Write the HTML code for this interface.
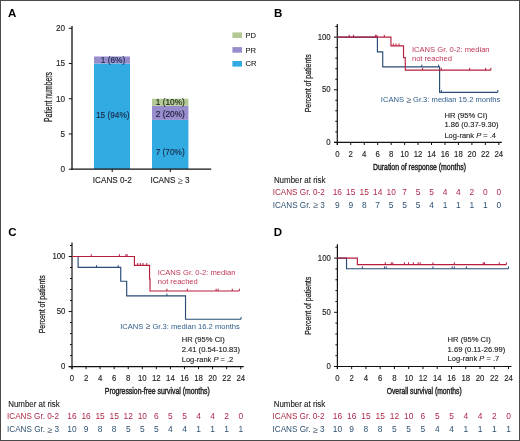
<!DOCTYPE html>
<html><head><meta charset="utf-8"><style>
html,body{margin:0;padding:0;background:#fff;}
body{width:520px;height:441px;overflow:hidden;}
svg{display:block;font-family:"Liberation Sans", sans-serif;will-change:transform;}
text{-webkit-font-smoothing:antialiased;}
</style></head><body>
<svg width="520" height="441" viewBox="0 0 520 441">
<rect x="0" y="0" width="520" height="441" fill="#fff"/>
<text x="8.00" y="16.70" font-size="11.5" fill="#000" text-anchor="start" font-weight="bold" >A</text>
<rect x="94.00" y="63.52" width="36.00" height="105.67" fill="#31abe2"/>
<rect x="94.00" y="56.48" width="36.00" height="7.05" fill="#978dcc"/>
<rect x="152.00" y="119.88" width="36.40" height="49.31" fill="#31abe2"/>
<rect x="152.00" y="105.79" width="36.40" height="14.09" fill="#978dcc"/>
<rect x="152.00" y="98.75" width="36.40" height="7.05" fill="#b4c896"/>
<line x1="72.00" y1="26.00" x2="72.00" y2="169.80" stroke="#111" stroke-width="1.3"/>
<line x1="71.40" y1="169.20" x2="211.20" y2="169.20" stroke="#111" stroke-width="1.3"/>
<line x1="68.80" y1="169.20" x2="72.00" y2="169.20" stroke="#111" stroke-width="1"/>
<text transform="translate(65.00,172.10) scale(1,1.06)" font-size="8.2" fill="#222" stroke="#222" stroke-width="0.12" text-anchor="end" font-weight="normal" >0</text>
<line x1="68.80" y1="133.97" x2="72.00" y2="133.97" stroke="#111" stroke-width="1"/>
<text transform="translate(65.00,136.88) scale(1,1.06)" font-size="8.2" fill="#222" stroke="#222" stroke-width="0.12" text-anchor="end" font-weight="normal" >5</text>
<line x1="68.80" y1="98.75" x2="72.00" y2="98.75" stroke="#111" stroke-width="1"/>
<text transform="translate(65.00,101.65) scale(1,1.06)" font-size="8.2" fill="#222" stroke="#222" stroke-width="0.12" text-anchor="end" font-weight="normal" >10</text>
<line x1="68.80" y1="63.52" x2="72.00" y2="63.52" stroke="#111" stroke-width="1"/>
<text transform="translate(65.00,66.42) scale(1,1.06)" font-size="8.2" fill="#222" stroke="#222" stroke-width="0.12" text-anchor="end" font-weight="normal" >15</text>
<line x1="68.80" y1="28.30" x2="72.00" y2="28.30" stroke="#111" stroke-width="1"/>
<text transform="translate(65.00,31.20) scale(1,1.06)" font-size="8.2" fill="#222" stroke="#222" stroke-width="0.12" text-anchor="end" font-weight="normal" >20</text>
<line x1="112.20" y1="169.20" x2="112.20" y2="172.00" stroke="#111" stroke-width="1"/>
<line x1="170.30" y1="169.20" x2="170.30" y2="172.00" stroke="#111" stroke-width="1"/>
<text transform="translate(112.30,183.10) scale(1,1.06)" font-size="8.2" fill="#222" stroke="#222" stroke-width="0.12" text-anchor="middle" font-weight="normal" >ICANS 0-2</text>
<text transform="translate(170.00,183.10) scale(1,1.06)" font-size="8.2" fill="#222" stroke="#222" stroke-width="0.12" text-anchor="middle" font-weight="normal" >ICANS <tspan fill="#666" stroke="none" font-size="9.2" dy="0.8">≥</tspan><tspan dy="-0.8"> 3</tspan></text>
<text transform="translate(113.00,63.00) scale(1,1.07)" font-size="8.3" fill="#1b2a4a" stroke="#1b2a4a" stroke-width="0.15" text-anchor="middle" font-weight="normal" >1 (6%)</text>
<text transform="translate(112.80,118.20) scale(1,1.07)" font-size="8.3" fill="#1b2a4a" stroke="#1b2a4a" stroke-width="0.15" text-anchor="middle" font-weight="normal" >15 (94%)</text>
<text transform="translate(170.30,105.30) scale(1,1.07)" font-size="8.3" fill="#1f2a14" stroke="#1f2a14" stroke-width="0.15" text-anchor="middle" font-weight="normal" >1 (10%)</text>
<text transform="translate(170.30,116.60) scale(1,1.07)" font-size="8.3" fill="#241d3a" stroke="#241d3a" stroke-width="0.15" text-anchor="middle" font-weight="normal" >2 (20%)</text>
<text transform="translate(170.20,155.30) scale(1,1.07)" font-size="8.3" fill="#1b2a4a" stroke="#1b2a4a" stroke-width="0.15" text-anchor="middle" font-weight="normal" >7 (70%)</text>
<rect x="232.40" y="32.40" width="9.60" height="5.60" fill="#b4c896"/>
<rect x="232.40" y="47.10" width="9.60" height="5.60" fill="#978dcc"/>
<rect x="232.40" y="61.00" width="9.60" height="5.60" fill="#31abe2"/>
<text transform="translate(245.40,37.80) scale(1,1.06)" font-size="7.6" fill="#222" stroke="#222" stroke-width="0.12" text-anchor="start" font-weight="normal" >PD</text>
<text transform="translate(245.40,52.50) scale(1,1.06)" font-size="7.6" fill="#222" stroke="#222" stroke-width="0.12" text-anchor="start" font-weight="normal" >PR</text>
<text transform="translate(245.40,66.40) scale(1,1.06)" font-size="7.6" fill="#222" stroke="#222" stroke-width="0.12" text-anchor="start" font-weight="normal" >CR</text>
<text transform="translate(51.60,97.00) rotate(-90)" x="0" y="0" font-size="10.2" font-weight="normal" fill="#222" stroke="#222" stroke-width="0.25" text-anchor="middle" textLength="50" lengthAdjust="spacingAndGlyphs">Patient numbers</text>
<line x1="337.30" y1="24.00" x2="337.30" y2="145.00" stroke="#111" stroke-width="1.2"/>
<line x1="334.00" y1="142.40" x2="501.82" y2="142.40" stroke="#111" stroke-width="1.2"/>
<line x1="334.00" y1="142.40" x2="337.30" y2="142.40" stroke="#111" stroke-width="1"/>
<line x1="335.30" y1="131.87" x2="337.30" y2="131.87" stroke="#111" stroke-width="1"/>
<line x1="335.30" y1="121.34" x2="337.30" y2="121.34" stroke="#111" stroke-width="1"/>
<line x1="335.30" y1="110.81" x2="337.30" y2="110.81" stroke="#111" stroke-width="1"/>
<line x1="335.30" y1="100.28" x2="337.30" y2="100.28" stroke="#111" stroke-width="1"/>
<line x1="334.00" y1="89.75" x2="337.30" y2="89.75" stroke="#111" stroke-width="1"/>
<line x1="335.30" y1="79.22" x2="337.30" y2="79.22" stroke="#111" stroke-width="1"/>
<line x1="335.30" y1="68.69" x2="337.30" y2="68.69" stroke="#111" stroke-width="1"/>
<line x1="335.30" y1="58.16" x2="337.30" y2="58.16" stroke="#111" stroke-width="1"/>
<line x1="335.30" y1="47.63" x2="337.30" y2="47.63" stroke="#111" stroke-width="1"/>
<line x1="334.00" y1="37.10" x2="337.30" y2="37.10" stroke="#111" stroke-width="1"/>
<line x1="335.30" y1="26.57" x2="337.30" y2="26.57" stroke="#111" stroke-width="1"/>
<text transform="translate(330.70,144.80) scale(1,1.06)" font-size="7.8" fill="#222" stroke="#222" stroke-width="0.12" text-anchor="end" font-weight="normal" >0</text>
<text transform="translate(330.70,92.15) scale(1,1.06)" font-size="7.8" fill="#222" stroke="#222" stroke-width="0.12" text-anchor="end" font-weight="normal" >50</text>
<text transform="translate(330.70,39.50) scale(1,1.06)" font-size="7.8" fill="#222" stroke="#222" stroke-width="0.12" text-anchor="end" font-weight="normal" >100</text>
<line x1="337.30" y1="142.40" x2="337.30" y2="145.00" stroke="#111" stroke-width="1"/>
<text transform="translate(337.30,156.80) scale(1,1.06)" font-size="7.8" fill="#222" stroke="#222" stroke-width="0.12" text-anchor="middle" font-weight="normal" >0</text>
<line x1="350.76" y1="142.40" x2="350.76" y2="145.00" stroke="#111" stroke-width="1"/>
<text transform="translate(350.76,156.80) scale(1,1.06)" font-size="7.8" fill="#222" stroke="#222" stroke-width="0.12" text-anchor="middle" font-weight="normal" >2</text>
<line x1="364.22" y1="142.40" x2="364.22" y2="145.00" stroke="#111" stroke-width="1"/>
<text transform="translate(364.22,156.80) scale(1,1.06)" font-size="7.8" fill="#222" stroke="#222" stroke-width="0.12" text-anchor="middle" font-weight="normal" >4</text>
<line x1="377.68" y1="142.40" x2="377.68" y2="145.00" stroke="#111" stroke-width="1"/>
<text transform="translate(377.68,156.80) scale(1,1.06)" font-size="7.8" fill="#222" stroke="#222" stroke-width="0.12" text-anchor="middle" font-weight="normal" >6</text>
<line x1="391.14" y1="142.40" x2="391.14" y2="145.00" stroke="#111" stroke-width="1"/>
<text transform="translate(391.14,156.80) scale(1,1.06)" font-size="7.8" fill="#222" stroke="#222" stroke-width="0.12" text-anchor="middle" font-weight="normal" >8</text>
<line x1="404.60" y1="142.40" x2="404.60" y2="145.00" stroke="#111" stroke-width="1"/>
<text transform="translate(404.60,156.80) scale(1,1.06)" font-size="7.8" fill="#222" stroke="#222" stroke-width="0.12" text-anchor="middle" font-weight="normal" >10</text>
<line x1="418.06" y1="142.40" x2="418.06" y2="145.00" stroke="#111" stroke-width="1"/>
<text transform="translate(418.06,156.80) scale(1,1.06)" font-size="7.8" fill="#222" stroke="#222" stroke-width="0.12" text-anchor="middle" font-weight="normal" >12</text>
<line x1="431.52" y1="142.40" x2="431.52" y2="145.00" stroke="#111" stroke-width="1"/>
<text transform="translate(431.52,156.80) scale(1,1.06)" font-size="7.8" fill="#222" stroke="#222" stroke-width="0.12" text-anchor="middle" font-weight="normal" >14</text>
<line x1="444.98" y1="142.40" x2="444.98" y2="145.00" stroke="#111" stroke-width="1"/>
<text transform="translate(444.98,156.80) scale(1,1.06)" font-size="7.8" fill="#222" stroke="#222" stroke-width="0.12" text-anchor="middle" font-weight="normal" >16</text>
<line x1="458.44" y1="142.40" x2="458.44" y2="145.00" stroke="#111" stroke-width="1"/>
<text transform="translate(458.44,156.80) scale(1,1.06)" font-size="7.8" fill="#222" stroke="#222" stroke-width="0.12" text-anchor="middle" font-weight="normal" >18</text>
<line x1="471.90" y1="142.40" x2="471.90" y2="145.00" stroke="#111" stroke-width="1"/>
<text transform="translate(471.90,156.80) scale(1,1.06)" font-size="7.8" fill="#222" stroke="#222" stroke-width="0.12" text-anchor="middle" font-weight="normal" >20</text>
<line x1="485.36" y1="142.40" x2="485.36" y2="145.00" stroke="#111" stroke-width="1"/>
<text transform="translate(485.36,156.80) scale(1,1.06)" font-size="7.8" fill="#222" stroke="#222" stroke-width="0.12" text-anchor="middle" font-weight="normal" >22</text>
<line x1="498.82" y1="142.40" x2="498.82" y2="145.00" stroke="#111" stroke-width="1"/>
<text transform="translate(498.82,156.80) scale(1,1.06)" font-size="7.8" fill="#222" stroke="#222" stroke-width="0.12" text-anchor="middle" font-weight="normal" >24</text>
<path d="M337.30,37.10 L377.41,37.10 L377.41,51.91 L382.73,51.91 L382.73,66.90 L439.60,66.90 L439.60,92.30 L497.81,92.30" fill="none" stroke="#294b76" stroke-width="1.15" stroke-linejoin="miter"/>
<line x1="421.76" y1="66.90" x2="421.76" y2="64.60" stroke="#294b76" stroke-width="1"/>
<line x1="438.59" y1="66.90" x2="438.59" y2="64.60" stroke="#294b76" stroke-width="1"/>
<line x1="441.41" y1="92.30" x2="441.41" y2="90.00" stroke="#294b76" stroke-width="1"/>
<line x1="497.81" y1="92.30" x2="497.81" y2="90.00" stroke="#294b76" stroke-width="1"/>
<path d="M337.30,37.10 L390.94,37.10 L390.94,45.80 L403.52,45.80 L403.52,57.60 L405.27,57.60 L405.27,70.15 L490.88,70.15" fill="none" stroke="#b71e3e" stroke-width="1.15" stroke-linejoin="miter"/>
<line x1="349.21" y1="37.10" x2="349.21" y2="34.80" stroke="#b71e3e" stroke-width="1"/>
<line x1="353.52" y1="37.10" x2="353.52" y2="34.80" stroke="#b71e3e" stroke-width="1"/>
<line x1="375.59" y1="37.10" x2="375.59" y2="34.80" stroke="#b71e3e" stroke-width="1"/>
<line x1="376.87" y1="37.10" x2="376.87" y2="34.80" stroke="#b71e3e" stroke-width="1"/>
<line x1="384.28" y1="37.10" x2="384.28" y2="34.80" stroke="#b71e3e" stroke-width="1"/>
<line x1="393.29" y1="45.80" x2="393.29" y2="43.50" stroke="#b71e3e" stroke-width="1"/>
<line x1="395.99" y1="45.80" x2="395.99" y2="43.50" stroke="#b71e3e" stroke-width="1"/>
<line x1="399.08" y1="45.80" x2="399.08" y2="43.50" stroke="#b71e3e" stroke-width="1"/>
<line x1="422.64" y1="70.15" x2="422.64" y2="67.85" stroke="#b71e3e" stroke-width="1"/>
<line x1="441.28" y1="70.15" x2="441.28" y2="67.85" stroke="#b71e3e" stroke-width="1"/>
<line x1="469.68" y1="70.15" x2="469.68" y2="67.85" stroke="#b71e3e" stroke-width="1"/>
<line x1="485.63" y1="70.15" x2="485.63" y2="67.85" stroke="#b71e3e" stroke-width="1"/>
<line x1="490.88" y1="70.15" x2="490.88" y2="67.85" stroke="#b71e3e" stroke-width="1"/>
<text transform="translate(411.90,52.40) scale(1,1.06)" font-size="7.6" fill="#bf3756" text-anchor="start" font-weight="normal" >ICANS Gr. 0-2: median</text>
<text transform="translate(411.90,60.80) scale(1,1.06)" font-size="7.6" fill="#bf3756" text-anchor="start" font-weight="normal" >not reached</text>
<text transform="translate(380.80,102.20) scale(1,1.06)" font-size="7.6" fill="#33608e" text-anchor="start" font-weight="normal" >ICANS <tspan fill="#5f6d80" font-size="8.6" dy="0.6">≥</tspan><tspan dy="-0.6"> Gr.3</tspan>: median 15.2 months</text>
<text transform="translate(444.40,117.90) scale(1,1.06)" font-size="7.6" fill="#222" stroke="#222" stroke-width="0.12" text-anchor="start" font-weight="normal" >HR (95% CI)</text>
<text transform="translate(444.40,127.10) scale(1,1.06)" font-size="7.6" fill="#222" stroke="#222" stroke-width="0.12" text-anchor="start" font-weight="normal" >1.86 (0.37-9.30)</text>
<text transform="translate(444.40,137.90) scale(1,1.06)" font-size="7.6" fill="#222" stroke="#222" stroke-width="0.12" text-anchor="start" font-weight="normal" ><tspan textLength="51.6" lengthAdjust="spacingAndGlyphs">Log-rank <tspan font-style="italic">P</tspan> = .4</tspan></text>
<text x="373.00" y="169.80" font-size="9.9" font-weight="normal" fill="#222" stroke="#222" stroke-width="0.45" textLength="93" lengthAdjust="spacingAndGlyphs">Duration of response (months)</text>
<text transform="translate(311.00,83.30) rotate(-90)" x="0" y="0" font-size="9.6" font-weight="normal" fill="#222" stroke="#222" stroke-width="0.25" text-anchor="middle" textLength="58" lengthAdjust="spacingAndGlyphs">Percent of patients</text>
<text x="273.90" y="182.80" font-size="8.4" fill="#222" stroke="#222" stroke-width="0.12" text-anchor="start" font-weight="normal" textLength="51.6" lengthAdjust="spacingAndGlyphs">Number at risk</text>
<text x="272.70" y="195.10" font-size="8.4" fill="#b02a4a" text-anchor="start" font-weight="normal" textLength="52.0" lengthAdjust="spacingAndGlyphs">ICANS Gr. 0-2</text>
<text x="272.70" y="207.50" font-size="8.4" fill="#2f5272" text-anchor="start" font-weight="normal" textLength="52.0" lengthAdjust="spacingAndGlyphs">ICANS Gr. <tspan fill="#5f6d80" font-size="9.2" dy="0.8">≥</tspan><tspan dy="-0.8"> 3</tspan></text>
<text x="337.30" y="195.10" font-size="8.4" fill="#b02a4a" text-anchor="middle" font-weight="normal" >16</text>
<text x="337.30" y="207.50" font-size="8.4" fill="#2f5272" text-anchor="middle" font-weight="normal" >9</text>
<text x="350.76" y="195.10" font-size="8.4" fill="#b02a4a" text-anchor="middle" font-weight="normal" >15</text>
<text x="350.76" y="207.50" font-size="8.4" fill="#2f5272" text-anchor="middle" font-weight="normal" >9</text>
<text x="364.22" y="195.10" font-size="8.4" fill="#b02a4a" text-anchor="middle" font-weight="normal" >15</text>
<text x="364.22" y="207.50" font-size="8.4" fill="#2f5272" text-anchor="middle" font-weight="normal" >8</text>
<text x="377.68" y="195.10" font-size="8.4" fill="#b02a4a" text-anchor="middle" font-weight="normal" >14</text>
<text x="377.68" y="207.50" font-size="8.4" fill="#2f5272" text-anchor="middle" font-weight="normal" >7</text>
<text x="391.14" y="195.10" font-size="8.4" fill="#b02a4a" text-anchor="middle" font-weight="normal" >10</text>
<text x="391.14" y="207.50" font-size="8.4" fill="#2f5272" text-anchor="middle" font-weight="normal" >5</text>
<text x="404.60" y="195.10" font-size="8.4" fill="#b02a4a" text-anchor="middle" font-weight="normal" >7</text>
<text x="404.60" y="207.50" font-size="8.4" fill="#2f5272" text-anchor="middle" font-weight="normal" >5</text>
<text x="418.06" y="195.10" font-size="8.4" fill="#b02a4a" text-anchor="middle" font-weight="normal" >5</text>
<text x="418.06" y="207.50" font-size="8.4" fill="#2f5272" text-anchor="middle" font-weight="normal" >5</text>
<text x="431.52" y="195.10" font-size="8.4" fill="#b02a4a" text-anchor="middle" font-weight="normal" >5</text>
<text x="431.52" y="207.50" font-size="8.4" fill="#2f5272" text-anchor="middle" font-weight="normal" >4</text>
<text x="444.98" y="195.10" font-size="8.4" fill="#b02a4a" text-anchor="middle" font-weight="normal" >4</text>
<text x="444.98" y="207.50" font-size="8.4" fill="#2f5272" text-anchor="middle" font-weight="normal" >1</text>
<text x="458.44" y="195.10" font-size="8.4" fill="#b02a4a" text-anchor="middle" font-weight="normal" >4</text>
<text x="458.44" y="207.50" font-size="8.4" fill="#2f5272" text-anchor="middle" font-weight="normal" >1</text>
<text x="471.90" y="195.10" font-size="8.4" fill="#b02a4a" text-anchor="middle" font-weight="normal" >2</text>
<text x="471.90" y="207.50" font-size="8.4" fill="#2f5272" text-anchor="middle" font-weight="normal" >1</text>
<text x="485.36" y="195.10" font-size="8.4" fill="#b02a4a" text-anchor="middle" font-weight="normal" >0</text>
<text x="485.36" y="207.50" font-size="8.4" fill="#2f5272" text-anchor="middle" font-weight="normal" >1</text>
<text x="498.82" y="195.10" font-size="8.4" fill="#b02a4a" text-anchor="middle" font-weight="normal" >0</text>
<text x="498.82" y="207.50" font-size="8.4" fill="#2f5272" text-anchor="middle" font-weight="normal" >0</text>
<text x="274.00" y="17.20" font-size="11.5" fill="#000" text-anchor="start" font-weight="bold" >B</text>
<line x1="72.00" y1="242.50" x2="72.00" y2="369.20" stroke="#111" stroke-width="1.2"/>
<line x1="68.70" y1="366.60" x2="243.72" y2="366.60" stroke="#111" stroke-width="1.2"/>
<line x1="68.70" y1="366.60" x2="72.00" y2="366.60" stroke="#111" stroke-width="1"/>
<line x1="70.00" y1="355.59" x2="72.00" y2="355.59" stroke="#111" stroke-width="1"/>
<line x1="70.00" y1="344.58" x2="72.00" y2="344.58" stroke="#111" stroke-width="1"/>
<line x1="70.00" y1="333.57" x2="72.00" y2="333.57" stroke="#111" stroke-width="1"/>
<line x1="70.00" y1="322.56" x2="72.00" y2="322.56" stroke="#111" stroke-width="1"/>
<line x1="68.70" y1="311.55" x2="72.00" y2="311.55" stroke="#111" stroke-width="1"/>
<line x1="70.00" y1="300.54" x2="72.00" y2="300.54" stroke="#111" stroke-width="1"/>
<line x1="70.00" y1="289.53" x2="72.00" y2="289.53" stroke="#111" stroke-width="1"/>
<line x1="70.00" y1="278.52" x2="72.00" y2="278.52" stroke="#111" stroke-width="1"/>
<line x1="70.00" y1="267.51" x2="72.00" y2="267.51" stroke="#111" stroke-width="1"/>
<line x1="68.70" y1="256.50" x2="72.00" y2="256.50" stroke="#111" stroke-width="1"/>
<line x1="70.00" y1="245.49" x2="72.00" y2="245.49" stroke="#111" stroke-width="1"/>
<text transform="translate(65.40,369.00) scale(1,1.06)" font-size="7.8" fill="#222" stroke="#222" stroke-width="0.12" text-anchor="end" font-weight="normal" >0</text>
<text transform="translate(65.40,313.95) scale(1,1.06)" font-size="7.8" fill="#222" stroke="#222" stroke-width="0.12" text-anchor="end" font-weight="normal" >50</text>
<text transform="translate(65.40,258.90) scale(1,1.06)" font-size="7.8" fill="#222" stroke="#222" stroke-width="0.12" text-anchor="end" font-weight="normal" >100</text>
<line x1="72.00" y1="366.60" x2="72.00" y2="369.20" stroke="#111" stroke-width="1"/>
<text transform="translate(72.00,381.00) scale(1,1.06)" font-size="7.8" fill="#222" stroke="#222" stroke-width="0.12" text-anchor="middle" font-weight="normal" >0</text>
<line x1="86.06" y1="366.60" x2="86.06" y2="369.20" stroke="#111" stroke-width="1"/>
<text transform="translate(86.06,381.00) scale(1,1.06)" font-size="7.8" fill="#222" stroke="#222" stroke-width="0.12" text-anchor="middle" font-weight="normal" >2</text>
<line x1="100.12" y1="366.60" x2="100.12" y2="369.20" stroke="#111" stroke-width="1"/>
<text transform="translate(100.12,381.00) scale(1,1.06)" font-size="7.8" fill="#222" stroke="#222" stroke-width="0.12" text-anchor="middle" font-weight="normal" >4</text>
<line x1="114.18" y1="366.60" x2="114.18" y2="369.20" stroke="#111" stroke-width="1"/>
<text transform="translate(114.18,381.00) scale(1,1.06)" font-size="7.8" fill="#222" stroke="#222" stroke-width="0.12" text-anchor="middle" font-weight="normal" >6</text>
<line x1="128.24" y1="366.60" x2="128.24" y2="369.20" stroke="#111" stroke-width="1"/>
<text transform="translate(128.24,381.00) scale(1,1.06)" font-size="7.8" fill="#222" stroke="#222" stroke-width="0.12" text-anchor="middle" font-weight="normal" >8</text>
<line x1="142.30" y1="366.60" x2="142.30" y2="369.20" stroke="#111" stroke-width="1"/>
<text transform="translate(142.30,381.00) scale(1,1.06)" font-size="7.8" fill="#222" stroke="#222" stroke-width="0.12" text-anchor="middle" font-weight="normal" >10</text>
<line x1="156.36" y1="366.60" x2="156.36" y2="369.20" stroke="#111" stroke-width="1"/>
<text transform="translate(156.36,381.00) scale(1,1.06)" font-size="7.8" fill="#222" stroke="#222" stroke-width="0.12" text-anchor="middle" font-weight="normal" >12</text>
<line x1="170.42" y1="366.60" x2="170.42" y2="369.20" stroke="#111" stroke-width="1"/>
<text transform="translate(170.42,381.00) scale(1,1.06)" font-size="7.8" fill="#222" stroke="#222" stroke-width="0.12" text-anchor="middle" font-weight="normal" >14</text>
<line x1="184.48" y1="366.60" x2="184.48" y2="369.20" stroke="#111" stroke-width="1"/>
<text transform="translate(184.48,381.00) scale(1,1.06)" font-size="7.8" fill="#222" stroke="#222" stroke-width="0.12" text-anchor="middle" font-weight="normal" >16</text>
<line x1="198.54" y1="366.60" x2="198.54" y2="369.20" stroke="#111" stroke-width="1"/>
<text transform="translate(198.54,381.00) scale(1,1.06)" font-size="7.8" fill="#222" stroke="#222" stroke-width="0.12" text-anchor="middle" font-weight="normal" >18</text>
<line x1="212.60" y1="366.60" x2="212.60" y2="369.20" stroke="#111" stroke-width="1"/>
<text transform="translate(212.60,381.00) scale(1,1.06)" font-size="7.8" fill="#222" stroke="#222" stroke-width="0.12" text-anchor="middle" font-weight="normal" >20</text>
<line x1="226.66" y1="366.60" x2="226.66" y2="369.20" stroke="#111" stroke-width="1"/>
<text transform="translate(226.66,381.00) scale(1,1.06)" font-size="7.8" fill="#222" stroke="#222" stroke-width="0.12" text-anchor="middle" font-weight="normal" >22</text>
<line x1="240.72" y1="366.60" x2="240.72" y2="369.20" stroke="#111" stroke-width="1"/>
<text transform="translate(240.72,381.00) scale(1,1.06)" font-size="7.8" fill="#222" stroke="#222" stroke-width="0.12" text-anchor="middle" font-weight="normal" >24</text>
<path d="M72.00,256.50 L78.12,256.50 L78.12,267.40 L120.72,267.40 L120.72,281.20 L126.69,281.20 L126.69,295.90 L185.53,295.90 L185.53,319.20 L241.07,319.20" fill="none" stroke="#294b76" stroke-width="1.15" stroke-linejoin="miter"/>
<line x1="96.46" y1="267.40" x2="96.46" y2="265.10" stroke="#294b76" stroke-width="1"/>
<line x1="118.19" y1="267.40" x2="118.19" y2="265.10" stroke="#294b76" stroke-width="1"/>
<line x1="166.91" y1="295.90" x2="166.91" y2="293.60" stroke="#294b76" stroke-width="1"/>
<line x1="241.07" y1="319.20" x2="241.07" y2="316.90" stroke="#294b76" stroke-width="1"/>
<path d="M72.00,256.50 L134.43,256.50 L134.43,265.31 L149.54,265.31 L149.54,278.91 L150.03,278.91 L150.03,291.01 L239.31,291.01" fill="none" stroke="#b71e3e" stroke-width="1.15" stroke-linejoin="miter"/>
<line x1="91.26" y1="256.50" x2="91.26" y2="254.20" stroke="#b71e3e" stroke-width="1"/>
<line x1="119.38" y1="256.50" x2="119.38" y2="254.20" stroke="#b71e3e" stroke-width="1"/>
<line x1="125.92" y1="256.50" x2="125.92" y2="254.20" stroke="#b71e3e" stroke-width="1"/>
<line x1="127.12" y1="256.50" x2="127.12" y2="254.20" stroke="#b71e3e" stroke-width="1"/>
<line x1="137.73" y1="265.31" x2="137.73" y2="263.01" stroke="#b71e3e" stroke-width="1"/>
<line x1="140.33" y1="265.31" x2="140.33" y2="263.01" stroke="#b71e3e" stroke-width="1"/>
<line x1="143.00" y1="265.31" x2="143.00" y2="263.01" stroke="#b71e3e" stroke-width="1"/>
<line x1="146.80" y1="265.31" x2="146.80" y2="263.01" stroke="#b71e3e" stroke-width="1"/>
<line x1="166.91" y1="291.01" x2="166.91" y2="288.71" stroke="#b71e3e" stroke-width="1"/>
<line x1="187.29" y1="291.01" x2="187.29" y2="288.71" stroke="#b71e3e" stroke-width="1"/>
<line x1="216.12" y1="291.01" x2="216.12" y2="288.71" stroke="#b71e3e" stroke-width="1"/>
<line x1="218.22" y1="291.01" x2="218.22" y2="288.71" stroke="#b71e3e" stroke-width="1"/>
<line x1="232.28" y1="291.01" x2="232.28" y2="288.71" stroke="#b71e3e" stroke-width="1"/>
<line x1="239.31" y1="291.01" x2="239.31" y2="288.71" stroke="#b71e3e" stroke-width="1"/>
<text transform="translate(157.70,275.40) scale(1,1.06)" font-size="7.6" fill="#bf3756" text-anchor="start" font-weight="normal" >ICANS Gr. 0-2: median</text>
<text transform="translate(157.70,284.00) scale(1,1.06)" font-size="7.6" fill="#bf3756" text-anchor="start" font-weight="normal" >not reached</text>
<text transform="translate(120.20,328.50) scale(1,1.06)" font-size="7.6" fill="#33608e" text-anchor="start" font-weight="normal" >ICANS <tspan fill="#5f6d80" font-size="8.6" dy="0.6">≥</tspan><tspan dy="-0.6"> Gr.3</tspan>: median 16.2 months</text>
<text transform="translate(181.70,342.10) scale(1,1.06)" font-size="7.6" fill="#222" stroke="#222" stroke-width="0.12" text-anchor="start" font-weight="normal" >HR (95% CI)</text>
<text transform="translate(181.70,351.50) scale(1,1.06)" font-size="7.6" fill="#222" stroke="#222" stroke-width="0.12" text-anchor="start" font-weight="normal" >2.41 (0.54-10.83)</text>
<text transform="translate(181.70,362.00) scale(1,1.06)" font-size="7.6" fill="#222" stroke="#222" stroke-width="0.12" text-anchor="start" font-weight="normal" ><tspan textLength="51.6" lengthAdjust="spacingAndGlyphs">Log-rank <tspan font-style="italic">P</tspan> = .2</tspan></text>
<text x="104.80" y="393.60" font-size="9.9" font-weight="normal" fill="#222" stroke="#222" stroke-width="0.45" textLength="105" lengthAdjust="spacingAndGlyphs">Progression-free survival (months)</text>
<text transform="translate(45.20,304.30) rotate(-90)" x="0" y="0" font-size="9.6" font-weight="normal" fill="#222" stroke="#222" stroke-width="0.25" text-anchor="middle" textLength="58" lengthAdjust="spacingAndGlyphs">Percent of patients</text>
<text x="8.20" y="406.80" font-size="8.4" fill="#222" stroke="#222" stroke-width="0.12" text-anchor="start" font-weight="normal" textLength="51.6" lengthAdjust="spacingAndGlyphs">Number at risk</text>
<text x="7.00" y="419.20" font-size="8.4" fill="#b02a4a" text-anchor="start" font-weight="normal" textLength="52.0" lengthAdjust="spacingAndGlyphs">ICANS Gr. 0-2</text>
<text x="7.00" y="432.00" font-size="8.4" fill="#2f5272" text-anchor="start" font-weight="normal" textLength="52.0" lengthAdjust="spacingAndGlyphs">ICANS Gr. <tspan fill="#5f6d80" font-size="9.2" dy="0.8">≥</tspan><tspan dy="-0.8"> 3</tspan></text>
<text x="72.00" y="419.20" font-size="8.4" fill="#b02a4a" text-anchor="middle" font-weight="normal" >16</text>
<text x="72.00" y="432.00" font-size="8.4" fill="#2f5272" text-anchor="middle" font-weight="normal" >10</text>
<text x="86.06" y="419.20" font-size="8.4" fill="#b02a4a" text-anchor="middle" font-weight="normal" >16</text>
<text x="86.06" y="432.00" font-size="8.4" fill="#2f5272" text-anchor="middle" font-weight="normal" >9</text>
<text x="100.12" y="419.20" font-size="8.4" fill="#b02a4a" text-anchor="middle" font-weight="normal" >15</text>
<text x="100.12" y="432.00" font-size="8.4" fill="#2f5272" text-anchor="middle" font-weight="normal" >8</text>
<text x="114.18" y="419.20" font-size="8.4" fill="#b02a4a" text-anchor="middle" font-weight="normal" >15</text>
<text x="114.18" y="432.00" font-size="8.4" fill="#2f5272" text-anchor="middle" font-weight="normal" >8</text>
<text x="128.24" y="419.20" font-size="8.4" fill="#b02a4a" text-anchor="middle" font-weight="normal" >12</text>
<text x="128.24" y="432.00" font-size="8.4" fill="#2f5272" text-anchor="middle" font-weight="normal" >5</text>
<text x="142.30" y="419.20" font-size="8.4" fill="#b02a4a" text-anchor="middle" font-weight="normal" >10</text>
<text x="142.30" y="432.00" font-size="8.4" fill="#2f5272" text-anchor="middle" font-weight="normal" >5</text>
<text x="156.36" y="419.20" font-size="8.4" fill="#b02a4a" text-anchor="middle" font-weight="normal" >6</text>
<text x="156.36" y="432.00" font-size="8.4" fill="#2f5272" text-anchor="middle" font-weight="normal" >5</text>
<text x="170.42" y="419.20" font-size="8.4" fill="#b02a4a" text-anchor="middle" font-weight="normal" >5</text>
<text x="170.42" y="432.00" font-size="8.4" fill="#2f5272" text-anchor="middle" font-weight="normal" >4</text>
<text x="184.48" y="419.20" font-size="8.4" fill="#b02a4a" text-anchor="middle" font-weight="normal" >5</text>
<text x="184.48" y="432.00" font-size="8.4" fill="#2f5272" text-anchor="middle" font-weight="normal" >4</text>
<text x="198.54" y="419.20" font-size="8.4" fill="#b02a4a" text-anchor="middle" font-weight="normal" >4</text>
<text x="198.54" y="432.00" font-size="8.4" fill="#2f5272" text-anchor="middle" font-weight="normal" >1</text>
<text x="212.60" y="419.20" font-size="8.4" fill="#b02a4a" text-anchor="middle" font-weight="normal" >4</text>
<text x="212.60" y="432.00" font-size="8.4" fill="#2f5272" text-anchor="middle" font-weight="normal" >1</text>
<text x="226.66" y="419.20" font-size="8.4" fill="#b02a4a" text-anchor="middle" font-weight="normal" >2</text>
<text x="226.66" y="432.00" font-size="8.4" fill="#2f5272" text-anchor="middle" font-weight="normal" >1</text>
<text x="240.72" y="419.20" font-size="8.4" fill="#b02a4a" text-anchor="middle" font-weight="normal" >0</text>
<text x="240.72" y="432.00" font-size="8.4" fill="#2f5272" text-anchor="middle" font-weight="normal" >1</text>
<text x="8.20" y="236.10" font-size="11.5" fill="#000" text-anchor="start" font-weight="bold" >C</text>
<line x1="337.40" y1="244.20" x2="337.40" y2="369.10" stroke="#111" stroke-width="1.2"/>
<line x1="334.10" y1="366.50" x2="511.52" y2="366.50" stroke="#111" stroke-width="1.2"/>
<line x1="334.10" y1="366.50" x2="337.40" y2="366.50" stroke="#111" stroke-width="1"/>
<line x1="335.40" y1="355.66" x2="337.40" y2="355.66" stroke="#111" stroke-width="1"/>
<line x1="335.40" y1="344.82" x2="337.40" y2="344.82" stroke="#111" stroke-width="1"/>
<line x1="335.40" y1="333.98" x2="337.40" y2="333.98" stroke="#111" stroke-width="1"/>
<line x1="335.40" y1="323.14" x2="337.40" y2="323.14" stroke="#111" stroke-width="1"/>
<line x1="334.10" y1="312.30" x2="337.40" y2="312.30" stroke="#111" stroke-width="1"/>
<line x1="335.40" y1="301.46" x2="337.40" y2="301.46" stroke="#111" stroke-width="1"/>
<line x1="335.40" y1="290.62" x2="337.40" y2="290.62" stroke="#111" stroke-width="1"/>
<line x1="335.40" y1="279.78" x2="337.40" y2="279.78" stroke="#111" stroke-width="1"/>
<line x1="335.40" y1="268.94" x2="337.40" y2="268.94" stroke="#111" stroke-width="1"/>
<line x1="334.10" y1="258.10" x2="337.40" y2="258.10" stroke="#111" stroke-width="1"/>
<line x1="335.40" y1="247.26" x2="337.40" y2="247.26" stroke="#111" stroke-width="1"/>
<text transform="translate(330.80,368.90) scale(1,1.06)" font-size="7.8" fill="#222" stroke="#222" stroke-width="0.12" text-anchor="end" font-weight="normal" >0</text>
<text transform="translate(330.80,314.70) scale(1,1.06)" font-size="7.8" fill="#222" stroke="#222" stroke-width="0.12" text-anchor="end" font-weight="normal" >50</text>
<text transform="translate(330.80,260.50) scale(1,1.06)" font-size="7.8" fill="#222" stroke="#222" stroke-width="0.12" text-anchor="end" font-weight="normal" >100</text>
<line x1="337.40" y1="366.50" x2="337.40" y2="369.10" stroke="#111" stroke-width="1"/>
<text transform="translate(337.40,380.90) scale(1,1.06)" font-size="7.8" fill="#222" stroke="#222" stroke-width="0.12" text-anchor="middle" font-weight="normal" >0</text>
<line x1="351.66" y1="366.50" x2="351.66" y2="369.10" stroke="#111" stroke-width="1"/>
<text transform="translate(351.66,380.90) scale(1,1.06)" font-size="7.8" fill="#222" stroke="#222" stroke-width="0.12" text-anchor="middle" font-weight="normal" >2</text>
<line x1="365.92" y1="366.50" x2="365.92" y2="369.10" stroke="#111" stroke-width="1"/>
<text transform="translate(365.92,380.90) scale(1,1.06)" font-size="7.8" fill="#222" stroke="#222" stroke-width="0.12" text-anchor="middle" font-weight="normal" >4</text>
<line x1="380.18" y1="366.50" x2="380.18" y2="369.10" stroke="#111" stroke-width="1"/>
<text transform="translate(380.18,380.90) scale(1,1.06)" font-size="7.8" fill="#222" stroke="#222" stroke-width="0.12" text-anchor="middle" font-weight="normal" >6</text>
<line x1="394.44" y1="366.50" x2="394.44" y2="369.10" stroke="#111" stroke-width="1"/>
<text transform="translate(394.44,380.90) scale(1,1.06)" font-size="7.8" fill="#222" stroke="#222" stroke-width="0.12" text-anchor="middle" font-weight="normal" >8</text>
<line x1="408.70" y1="366.50" x2="408.70" y2="369.10" stroke="#111" stroke-width="1"/>
<text transform="translate(408.70,380.90) scale(1,1.06)" font-size="7.8" fill="#222" stroke="#222" stroke-width="0.12" text-anchor="middle" font-weight="normal" >10</text>
<line x1="422.96" y1="366.50" x2="422.96" y2="369.10" stroke="#111" stroke-width="1"/>
<text transform="translate(422.96,380.90) scale(1,1.06)" font-size="7.8" fill="#222" stroke="#222" stroke-width="0.12" text-anchor="middle" font-weight="normal" >12</text>
<line x1="437.22" y1="366.50" x2="437.22" y2="369.10" stroke="#111" stroke-width="1"/>
<text transform="translate(437.22,380.90) scale(1,1.06)" font-size="7.8" fill="#222" stroke="#222" stroke-width="0.12" text-anchor="middle" font-weight="normal" >14</text>
<line x1="451.48" y1="366.50" x2="451.48" y2="369.10" stroke="#111" stroke-width="1"/>
<text transform="translate(451.48,380.90) scale(1,1.06)" font-size="7.8" fill="#222" stroke="#222" stroke-width="0.12" text-anchor="middle" font-weight="normal" >16</text>
<line x1="465.74" y1="366.50" x2="465.74" y2="369.10" stroke="#111" stroke-width="1"/>
<text transform="translate(465.74,380.90) scale(1,1.06)" font-size="7.8" fill="#222" stroke="#222" stroke-width="0.12" text-anchor="middle" font-weight="normal" >18</text>
<line x1="480.00" y1="366.50" x2="480.00" y2="369.10" stroke="#111" stroke-width="1"/>
<text transform="translate(480.00,380.90) scale(1,1.06)" font-size="7.8" fill="#222" stroke="#222" stroke-width="0.12" text-anchor="middle" font-weight="normal" >20</text>
<line x1="494.26" y1="366.50" x2="494.26" y2="369.10" stroke="#111" stroke-width="1"/>
<text transform="translate(494.26,380.90) scale(1,1.06)" font-size="7.8" fill="#222" stroke="#222" stroke-width="0.12" text-anchor="middle" font-weight="normal" >22</text>
<line x1="508.52" y1="366.50" x2="508.52" y2="369.10" stroke="#111" stroke-width="1"/>
<text transform="translate(508.52,380.90) scale(1,1.06)" font-size="7.8" fill="#222" stroke="#222" stroke-width="0.12" text-anchor="middle" font-weight="normal" >24</text>
<path d="M337.40,258.10 L346.53,258.10 L346.53,268.72 L508.52,268.72" fill="none" stroke="#294b76" stroke-width="1.15" stroke-linejoin="miter"/>
<line x1="362.35" y1="268.72" x2="362.35" y2="266.42" stroke="#294b76" stroke-width="1"/>
<line x1="384.46" y1="268.72" x2="384.46" y2="266.42" stroke="#294b76" stroke-width="1"/>
<line x1="386.24" y1="268.72" x2="386.24" y2="266.42" stroke="#294b76" stroke-width="1"/>
<line x1="432.94" y1="268.72" x2="432.94" y2="266.42" stroke="#294b76" stroke-width="1"/>
<line x1="452.19" y1="268.72" x2="452.19" y2="266.42" stroke="#294b76" stroke-width="1"/>
<line x1="454.33" y1="268.72" x2="454.33" y2="266.42" stroke="#294b76" stroke-width="1"/>
<line x1="466.45" y1="268.72" x2="466.45" y2="266.42" stroke="#294b76" stroke-width="1"/>
<line x1="508.52" y1="268.72" x2="508.52" y2="266.42" stroke="#294b76" stroke-width="1"/>
<path d="M337.40,258.10 L357.36,258.10 L357.36,264.60 L506.38,264.60" fill="none" stroke="#b71e3e" stroke-width="1.15" stroke-linejoin="miter"/>
<line x1="385.31" y1="264.60" x2="385.31" y2="262.30" stroke="#b71e3e" stroke-width="1"/>
<line x1="391.23" y1="264.60" x2="391.23" y2="262.30" stroke="#b71e3e" stroke-width="1"/>
<line x1="392.80" y1="264.60" x2="392.80" y2="262.30" stroke="#b71e3e" stroke-width="1"/>
<line x1="404.42" y1="264.60" x2="404.42" y2="262.30" stroke="#b71e3e" stroke-width="1"/>
<line x1="408.49" y1="264.60" x2="408.49" y2="262.30" stroke="#b71e3e" stroke-width="1"/>
<line x1="413.33" y1="264.60" x2="413.33" y2="262.30" stroke="#b71e3e" stroke-width="1"/>
<line x1="418.18" y1="264.60" x2="418.18" y2="262.30" stroke="#b71e3e" stroke-width="1"/>
<line x1="420.11" y1="264.60" x2="420.11" y2="262.30" stroke="#b71e3e" stroke-width="1"/>
<line x1="432.94" y1="264.60" x2="432.94" y2="262.30" stroke="#b71e3e" stroke-width="1"/>
<line x1="454.33" y1="264.60" x2="454.33" y2="262.30" stroke="#b71e3e" stroke-width="1"/>
<line x1="483.21" y1="264.60" x2="483.21" y2="262.30" stroke="#b71e3e" stroke-width="1"/>
<line x1="484.49" y1="264.60" x2="484.49" y2="262.30" stroke="#b71e3e" stroke-width="1"/>
<line x1="499.25" y1="264.60" x2="499.25" y2="262.30" stroke="#b71e3e" stroke-width="1"/>
<line x1="506.38" y1="264.60" x2="506.38" y2="262.30" stroke="#b71e3e" stroke-width="1"/>
<text transform="translate(447.60,342.20) scale(1,1.06)" font-size="7.6" fill="#222" stroke="#222" stroke-width="0.12" text-anchor="start" font-weight="normal" >HR (95% CI)</text>
<text transform="translate(447.60,351.50) scale(1,1.06)" font-size="7.6" fill="#222" stroke="#222" stroke-width="0.12" text-anchor="start" font-weight="normal" >1.69 (0.11-26.99)</text>
<text transform="translate(447.60,361.30) scale(1,1.06)" font-size="7.6" fill="#222" stroke="#222" stroke-width="0.12" text-anchor="start" font-weight="normal" ><tspan textLength="51.6" lengthAdjust="spacingAndGlyphs">Log-rank <tspan font-style="italic">P</tspan> = .7</tspan></text>
<text x="386.70" y="393.80" font-size="9.9" font-weight="normal" fill="#222" stroke="#222" stroke-width="0.45" textLength="75" lengthAdjust="spacingAndGlyphs">Overall survival (months)</text>
<text transform="translate(311.00,305.80) rotate(-90)" x="0" y="0" font-size="9.6" font-weight="normal" fill="#222" stroke="#222" stroke-width="0.25" text-anchor="middle" textLength="58" lengthAdjust="spacingAndGlyphs">Percent of patients</text>
<text x="273.70" y="406.80" font-size="8.4" fill="#222" stroke="#222" stroke-width="0.12" text-anchor="start" font-weight="normal" textLength="51.6" lengthAdjust="spacingAndGlyphs">Number at risk</text>
<text x="272.50" y="419.20" font-size="8.4" fill="#b02a4a" text-anchor="start" font-weight="normal" textLength="52.0" lengthAdjust="spacingAndGlyphs">ICANS Gr. 0-2</text>
<text x="272.50" y="432.00" font-size="8.4" fill="#2f5272" text-anchor="start" font-weight="normal" textLength="52.0" lengthAdjust="spacingAndGlyphs">ICANS Gr. <tspan fill="#5f6d80" font-size="9.2" dy="0.8">≥</tspan><tspan dy="-0.8"> 3</tspan></text>
<text x="337.40" y="419.20" font-size="8.4" fill="#b02a4a" text-anchor="middle" font-weight="normal" >16</text>
<text x="337.40" y="432.00" font-size="8.4" fill="#2f5272" text-anchor="middle" font-weight="normal" >10</text>
<text x="351.66" y="419.20" font-size="8.4" fill="#b02a4a" text-anchor="middle" font-weight="normal" >16</text>
<text x="351.66" y="432.00" font-size="8.4" fill="#2f5272" text-anchor="middle" font-weight="normal" >9</text>
<text x="365.92" y="419.20" font-size="8.4" fill="#b02a4a" text-anchor="middle" font-weight="normal" >15</text>
<text x="365.92" y="432.00" font-size="8.4" fill="#2f5272" text-anchor="middle" font-weight="normal" >8</text>
<text x="380.18" y="419.20" font-size="8.4" fill="#b02a4a" text-anchor="middle" font-weight="normal" >15</text>
<text x="380.18" y="432.00" font-size="8.4" fill="#2f5272" text-anchor="middle" font-weight="normal" >8</text>
<text x="394.44" y="419.20" font-size="8.4" fill="#b02a4a" text-anchor="middle" font-weight="normal" >12</text>
<text x="394.44" y="432.00" font-size="8.4" fill="#2f5272" text-anchor="middle" font-weight="normal" >5</text>
<text x="408.70" y="419.20" font-size="8.4" fill="#b02a4a" text-anchor="middle" font-weight="normal" >10</text>
<text x="408.70" y="432.00" font-size="8.4" fill="#2f5272" text-anchor="middle" font-weight="normal" >5</text>
<text x="422.96" y="419.20" font-size="8.4" fill="#b02a4a" text-anchor="middle" font-weight="normal" >6</text>
<text x="422.96" y="432.00" font-size="8.4" fill="#2f5272" text-anchor="middle" font-weight="normal" >5</text>
<text x="437.22" y="419.20" font-size="8.4" fill="#b02a4a" text-anchor="middle" font-weight="normal" >5</text>
<text x="437.22" y="432.00" font-size="8.4" fill="#2f5272" text-anchor="middle" font-weight="normal" >4</text>
<text x="451.48" y="419.20" font-size="8.4" fill="#b02a4a" text-anchor="middle" font-weight="normal" >5</text>
<text x="451.48" y="432.00" font-size="8.4" fill="#2f5272" text-anchor="middle" font-weight="normal" >4</text>
<text x="465.74" y="419.20" font-size="8.4" fill="#b02a4a" text-anchor="middle" font-weight="normal" >4</text>
<text x="465.74" y="432.00" font-size="8.4" fill="#2f5272" text-anchor="middle" font-weight="normal" >1</text>
<text x="480.00" y="419.20" font-size="8.4" fill="#b02a4a" text-anchor="middle" font-weight="normal" >4</text>
<text x="480.00" y="432.00" font-size="8.4" fill="#2f5272" text-anchor="middle" font-weight="normal" >1</text>
<text x="494.26" y="419.20" font-size="8.4" fill="#b02a4a" text-anchor="middle" font-weight="normal" >2</text>
<text x="494.26" y="432.00" font-size="8.4" fill="#2f5272" text-anchor="middle" font-weight="normal" >1</text>
<text x="508.52" y="419.20" font-size="8.4" fill="#b02a4a" text-anchor="middle" font-weight="normal" >0</text>
<text x="508.52" y="432.00" font-size="8.4" fill="#2f5272" text-anchor="middle" font-weight="normal" >1</text>
<text x="273.80" y="236.40" font-size="11.5" fill="#000" text-anchor="start" font-weight="bold" >D</text>
<rect x="0.5" y="0.5" width="519" height="440" fill="none" stroke="#4a4a4a" stroke-width="1"/>
</svg>
</body></html>
